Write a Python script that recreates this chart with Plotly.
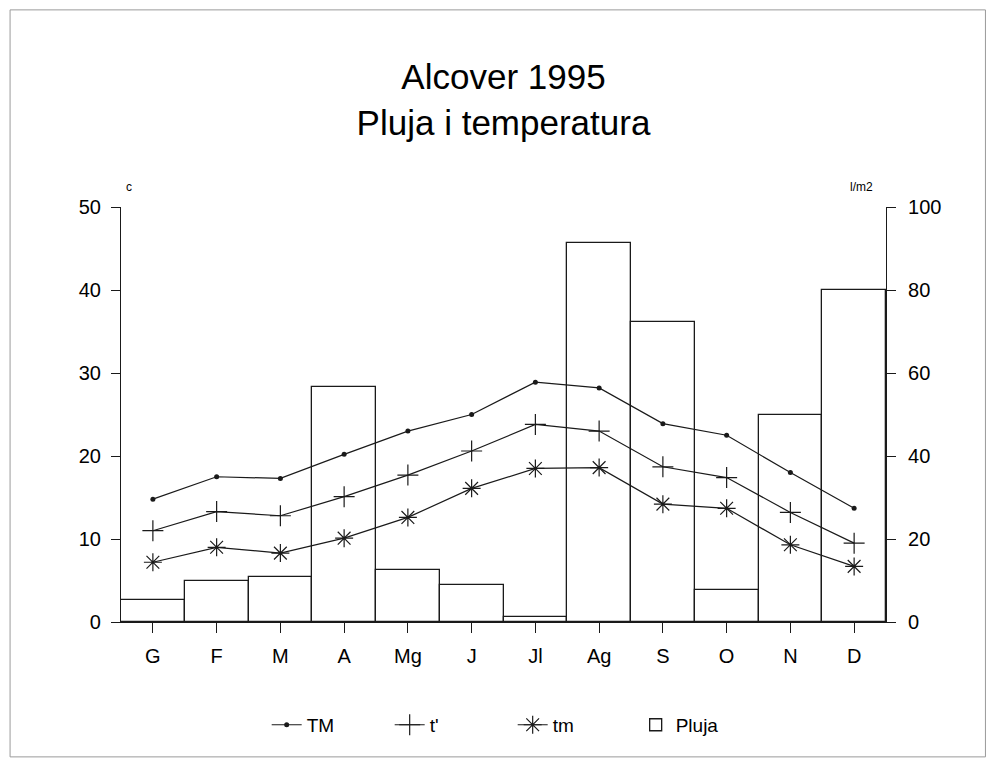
import plotly.graph_objects as go

months = ["G", "F", "M", "A", "Mg", "J", "Jl", "Ag", "S", "O", "N", "D"]
tm_max = [14.8, 17.5, 17.3, 20.2, 23.0, 25.0, 28.9, 28.2, 23.9, 22.5, 18.0, 13.7]
t_mean = [11.0, 13.3, 12.8, 15.1, 17.7, 20.6, 23.8, 23.0, 18.7, 17.4, 13.2, 9.5]
tm_min = [7.2, 9.0, 8.3, 10.1, 12.6, 16.1, 18.5, 18.6, 14.2, 13.7, 9.3, 6.7]
pluja = [5.4, 9.9, 10.9, 56.6, 12.5, 9.0, 1.3, 91.4, 72.2, 7.6, 49.8, 79.9]

left_ticks = [0, 10, 20, 30, 40, 50]
right_ticks = [0, 20, 40, 60, 80, 100]

FONT = "Liberation Sans, Arial, sans-serif"
INK = "#1a1a1a"

fig = go.Figure()

fig.add_trace(go.Bar(
    x=months, y=pluja, name="Pluja", yaxis="y",
    marker=dict(color="white", line=dict(color=INK, width=1.3)),
))

fig.add_trace(go.Scatter(
    x=months, y=tm_max, name="TM", yaxis="y2", mode="lines+markers",
    line=dict(color=INK, width=1.2),
    marker=dict(symbol="circle", size=5, color=INK),
))
fig.add_trace(go.Scatter(
    x=months, y=t_mean, name="t'", yaxis="y2", mode="lines+markers",
    line=dict(color=INK, width=1.2),
    marker=dict(symbol="cross-thin-open", size=15, color=INK, line=dict(color=INK, width=1.2)),
))
fig.add_trace(go.Scatter(
    x=months, y=tm_min, name="tm", yaxis="y2", mode="lines+markers",
    line=dict(color=INK, width=1.2),
    marker=dict(symbol="asterisk-open", size=15, color=INK, line=dict(color=INK, width=1.2)),
))

fig.update_layout(
    width=994, height=775,
    margin=dict(l=113, r=116, t=199, b=161),
    paper_bgcolor="white", plot_bgcolor="white",
    font=dict(family=FONT, size=20, color="black"),
    bargap=0,
    showlegend=True,
    title=dict(
        text="Alcover 1995<br>Pluja i temperatura",
        x=0.5, xref="paper", xanchor="center",
        y=0.895, yref="container", yanchor="middle",
        font=dict(family=FONT, size=35, color="black"),
    ),
    xaxis=dict(
        type="category", range=[-0.5, 11.5],
        showline=True, linecolor=INK, linewidth=1.2,
        ticks="outside", ticklen=10, tickcolor=INK, tickwidth=1,
        ticklabelstandoff=6,
        showgrid=False, zeroline=False,
        tickfont=dict(size=20),
    ),
    yaxis=dict(
        side="right", range=[0, 100],
        tickvals=right_ticks,
        showline=True, linecolor=INK, linewidth=1.2,
        ticks="outside", ticklen=9, tickcolor=INK,
        ticklabelstandoff=8,
        showgrid=False, zeroline=False,
        tickfont=dict(size=20),
    ),
    yaxis2=dict(
        overlaying="y", side="left", range=[0, 50],
        tickvals=left_ticks,
        showline=True, linecolor=INK, linewidth=1.2,
        ticks="outside", ticklen=9, tickcolor=INK,
        ticklabelstandoff=6,
        showgrid=False, zeroline=False,
        tickfont=dict(size=20),
    ),
    legend=dict(
        orientation="h", x=0.512, xanchor="center",
        y=-0.248, yanchor="middle",
        traceorder="normal",
        font=dict(size=19),
        entrywidth=78, entrywidthmode="pixels",
    ),
    annotations=[
        dict(text="c", xref="paper", yref="paper", x=0.01, y=1.048,
             showarrow=False, font=dict(size=12), xanchor="center", yanchor="middle"),
        dict(text="l/m2", xref="paper", yref="paper", x=0.968, y=1.048,
             showarrow=False, font=dict(size=12), xanchor="center", yanchor="middle"),
    ],
    shapes=[
        dict(type="rect", xref="paper", yref="paper",
             x0=-0.145, x1=1.13, y0=-0.325, y1=1.475,
             line=dict(color="#9a9a9a", width=1), fillcolor="rgba(0,0,0,0)", layer="below"),
    ],
)

# Legend order: TM, t', tm, Pluja
fig.data[0].legendrank = 4
fig.data[1].legendrank = 1
fig.data[2].legendrank = 2
fig.data[3].legendrank = 3

fig.write_html("out.html")
